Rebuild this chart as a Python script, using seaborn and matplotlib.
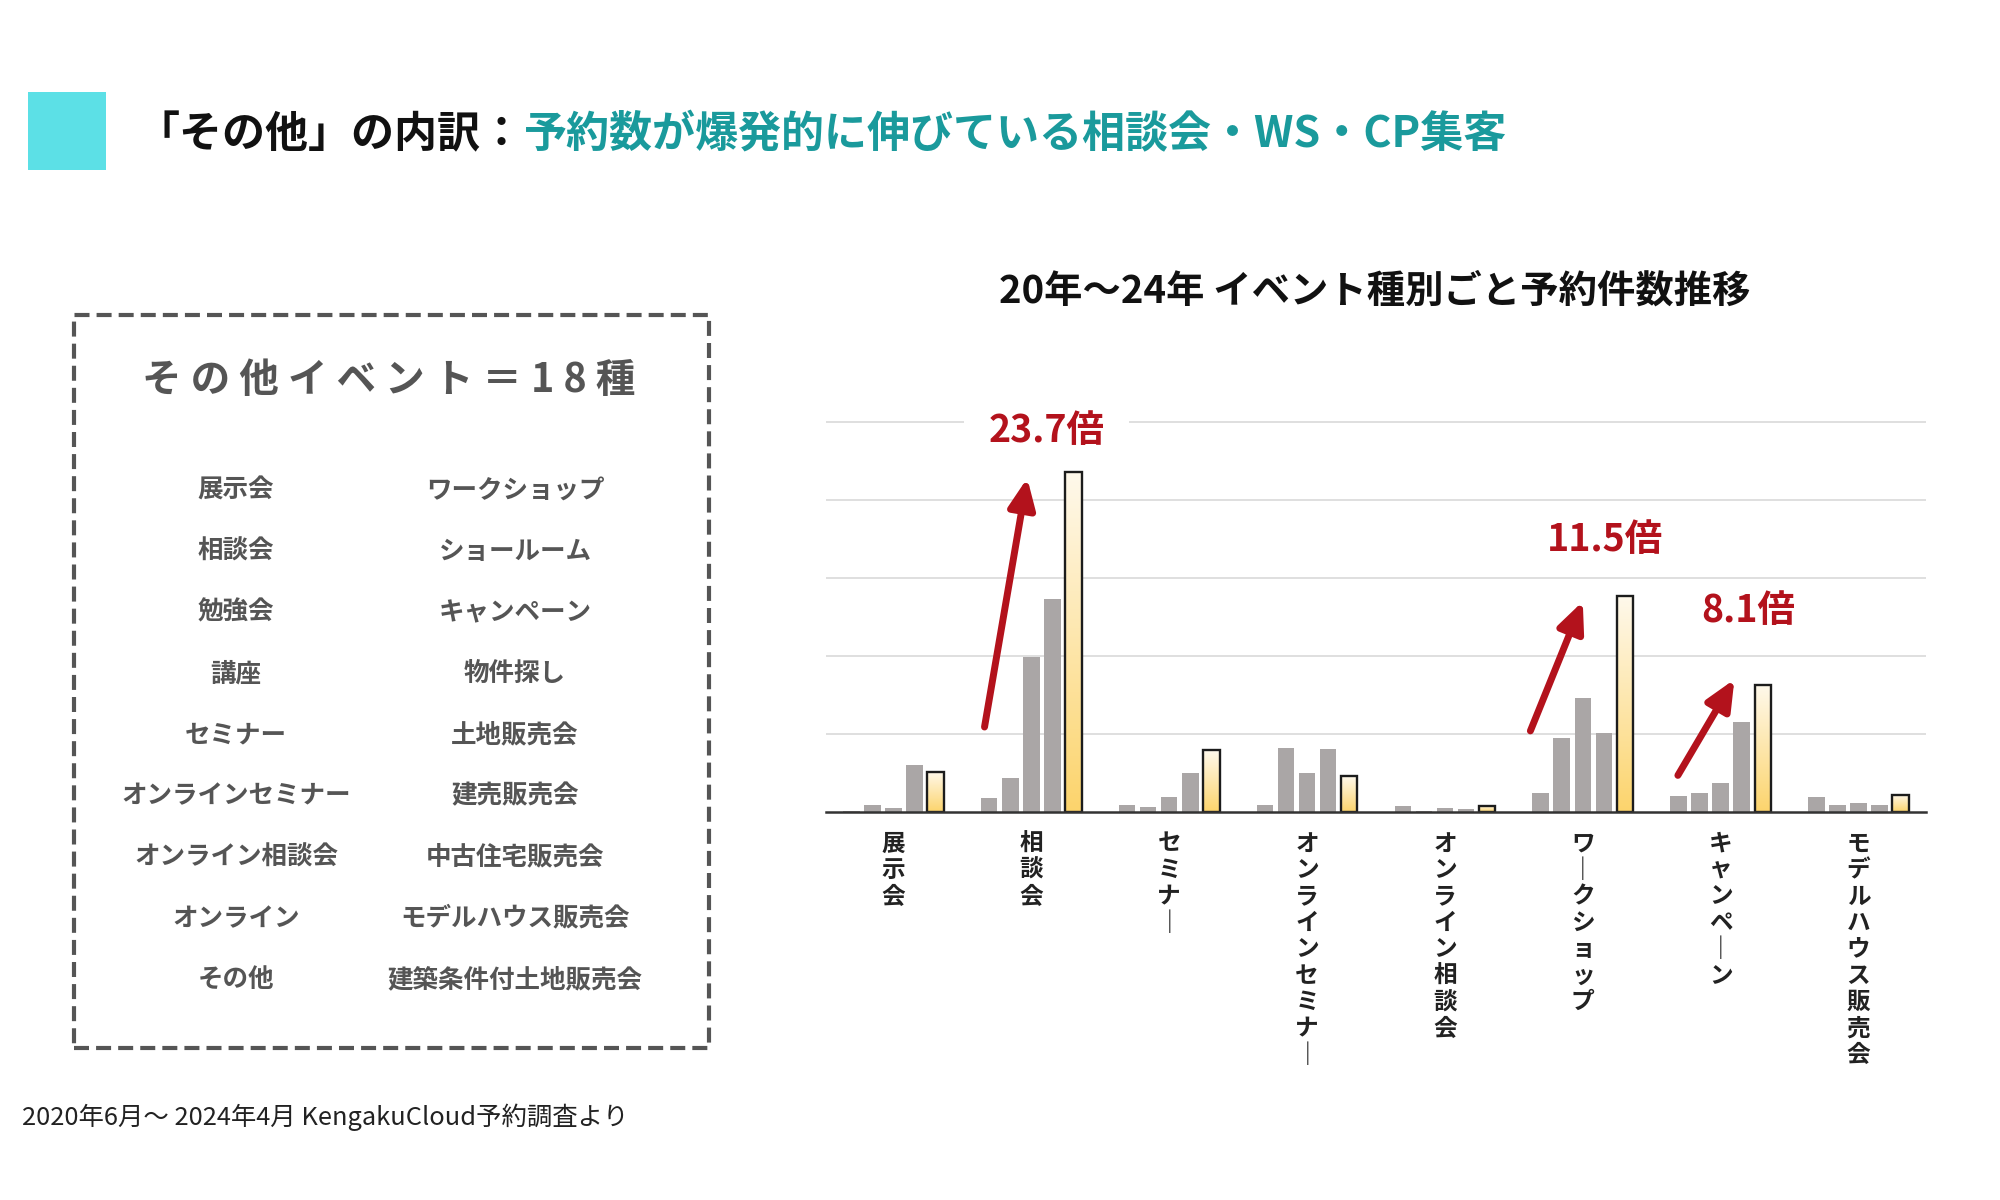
import numpy as np
import pandas as pd
import matplotlib
matplotlib.use("Agg")
import matplotlib.pyplot as plt
import seaborn as sns
from matplotlib.colors import LinearSegmentedColormap
from matplotlib.patches import Rectangle

# ---------------- data ----------------
events = ["展示会", "相談会", "セミナー", "オンラインセミナー", "オンライン相談会",
          "ワークショップ", "キャンペーン", "モデルハウス販売会"]
years = ["2020", "2021", "2022", "2023", "2024"]
v2020 = [1, 18.4, 9.4, 9.4, 7.7, 24, 20, 19.2]
v2021 = [9.4, 43.6, 6.8, 82.5, 1, 95, 24, 9.4]
v2022 = [5.6, 199, 19, 50.4, 5.6, 146.6, 37.6, 12]
v2023 = [60.7, 273.5, 49.6, 81, 4.3, 101.7, 115.4, 9.4]
v2024 = [51.3, 436, 79, 46, 7.7, 277, 163, 22.2]
grid_ticks = [100, 200, 300, 400, 500]

growth_events = ["相談会", "ワークショップ", "キャンペーン"]
growth_labels = ["23.7倍", "11.5倍", "8.1倍"]

other_title = "その他イベント＝18種"
other_left = ["展示会", "相談会", "勉強会", "講座", "セミナー", "オンラインセミナー",
              "オンライン相談会", "オンライン", "その他"]
other_right = ["ワークショップ", "ショールーム", "キャンペーン", "物件探し", "土地販売会",
               "建売販売会", "中古住宅販売会", "モデルハウス販売会", "建築条件付土地販売会"]

title_black = "「その他」の内訳："
title_teal = "予約数が爆発的に伸びている相談会・WS・CP集客"
chart_title = "20年〜24年 イベント種別ごと予約件数推移"
footer = "2020年6月～ 2024年4月 KengakuCloud予約調査より"

# ---------------- style ----------------
sns.set_theme(style="white")
plt.rcParams['font.family'] = ['Noto Sans CJK JP', 'DejaVu Sans']

GRAY = "#aaa6a6"
RED = "#b3121c"
TEAL = "#1a9a9c"
TEAL_SQ = "#5ce0e6"
BOXGRAY = "#555555"

fig = plt.figure(figsize=(20, 12), dpi=100)
fig.patch.set_facecolor("white")

df = pd.DataFrame({
    "event": np.tile(events, len(years)),
    "year": np.repeat(years, len(events)),
    "value": v2020 + v2021 + v2022 + v2023 + v2024,
})

ax = fig.add_axes([0.413, 0.3233, 0.55, 0.3445])
sns.barplot(data=df, x="event", y="value", hue="year", hue_order=years, order=events,
            palette=[GRAY] * 4 + ["#fde7a0"], width=0.765, gap=0.22, legend=False,
            saturation=1, ax=ax, zorder=2)

# gradient fill for the latest year
cmap = LinearSegmentedColormap.from_list("yel", ["#fcd46c", "#fff9ec"])
grad = np.linspace(0, 1, 256).reshape(-1, 1)
for bar in ax.containers[-1]:
    x0, y0 = bar.get_x(), bar.get_y()
    w, h = bar.get_width(), bar.get_height()
    im = ax.imshow(grad, extent=(x0, x0 + w, y0, y0 + h), origin="lower", cmap=cmap,
                   aspect="auto", zorder=2, interpolation="bilinear")
    im.set_clip_path(bar)
    bar.set_facecolor("none")
    bar.set_edgecolor("#1c1c1c")
    bar.set_linewidth(1.7)
    bar.set_zorder(2.1)
for cont in ax.containers[:-1]:
    for bar in cont:
        bar.set_linewidth(0)

ax.set_xlim(-0.49, 7.49)
ax.set_ylim(0, 530)
ax.set_yticks(grid_ticks)
ax.set_yticklabels([])
ax.yaxis.grid(True, color="#d9d9d9", linewidth=1.2)
ax.set_axisbelow(True)
for s in ["left", "right", "top"]:
    ax.spines[s].set_visible(False)
ax.spines["bottom"].set_color("#333333")
ax.spines["bottom"].set_linewidth(1.8)
ax.spines["bottom"].set_zorder(3)
ax.set_xlabel("")
ax.set_ylabel("")
ax.tick_params(axis="both", length=0)
ax.tick_params(axis="x", pad=14)


def vertical(s):
    return "\n".join("｜" if ch == "ー" else ch for ch in s)


ax.set_xticks(range(len(events)))
ax.set_xticklabels([vertical(e) for e in events], fontsize=17, fontweight="bold",
                   color="#222222", linespacing=1.13, va="top")

# growth arrows and labels
arrow_off = {"相談会": ((-0.34, 109), (-0.03, 428)),
             "ワークショップ": ((-0.38, 104), (0.0, 270)),
             "キャンペーン": ((-0.31, 47), (0.10, 170))}
label_off = {"相談会": (0.11, 489), "ワークショップ": (0.16, 350), "キャンペーン": (0.20, 259)}
for k, (ev, lab) in enumerate(zip(growth_events, growth_labels)):
    i = events.index(ev)
    (tx, ty), (hx, hy) = arrow_off[ev]
    ax.annotate("", xy=(i + hx, hy), xytext=(i + tx, ty),
                arrowprops=dict(arrowstyle="-|>,head_width=0.45,head_length=1.0",
                                mutation_scale=18, lw=5, color=RED,
                                shrinkA=0, shrinkB=0), zorder=5)
    lx, ly = label_off[ev]
    if k == 0:
        ax.text(i + lx, ly, lab, ha="center", va="center", fontsize=27, alpha=0,
                bbox=dict(facecolor="white", edgecolor="none", pad=20), zorder=0.9)
    ax.text(i + lx, ly, lab, ha="center", va="center", fontsize=27,
            fontweight="bold", color=RED, zorder=6)

# chart title
fig.text(0.6875, 0.7575, chart_title, ha="center", va="center", fontsize=27.6,
         fontweight="bold", color="#111111")

# header
fig.patches.append(Rectangle((0.014, 0.8583), 0.039, 0.065, transform=fig.transFigure,
                             facecolor=TEAL_SQ, edgecolor="none"))
t1 = fig.text(0.0685, 0.888, title_black, ha="left", va="center", fontsize=31,
              fontweight="bold", color="#111111")
fig.canvas.draw()
ext = t1.get_window_extent()
x_next = ext.x1 / fig.bbox.width
fig.text(x_next, 0.888, title_teal, ha="left", va="center", fontsize=31,
         fontweight="bold", color=TEAL)

# dashed box with other event list
fig.patches.append(Rectangle((0.037, 0.1267), 0.3175, 0.611, transform=fig.transFigure,
                             facecolor="none", edgecolor=BOXGRAY, linewidth=3,
                             linestyle=(0, (3.6, 1.7))))
fig.text(0.1945, 0.6833, " ".join(other_title), ha="center", va="center", fontsize=28.5,
         fontweight="bold", color=BOXGRAY)
for k, (l, r) in enumerate(zip(other_left, other_right)):
    y = 1 - (490 + 61.2 * k) / 1200
    fig.text(0.118, y, l, ha="center", va="center", fontsize=18.4, fontweight="bold",
             color=BOXGRAY)
    fig.text(0.2575, y, r, ha="center", va="center", fontsize=18.4, fontweight="bold",
             color=BOXGRAY)

# footer
fig.text(0.011, 0.069, footer, ha="left", va="center", fontsize=18.3, color="#222222")

fig.savefig("out.png", dpi=100, facecolor="white")
